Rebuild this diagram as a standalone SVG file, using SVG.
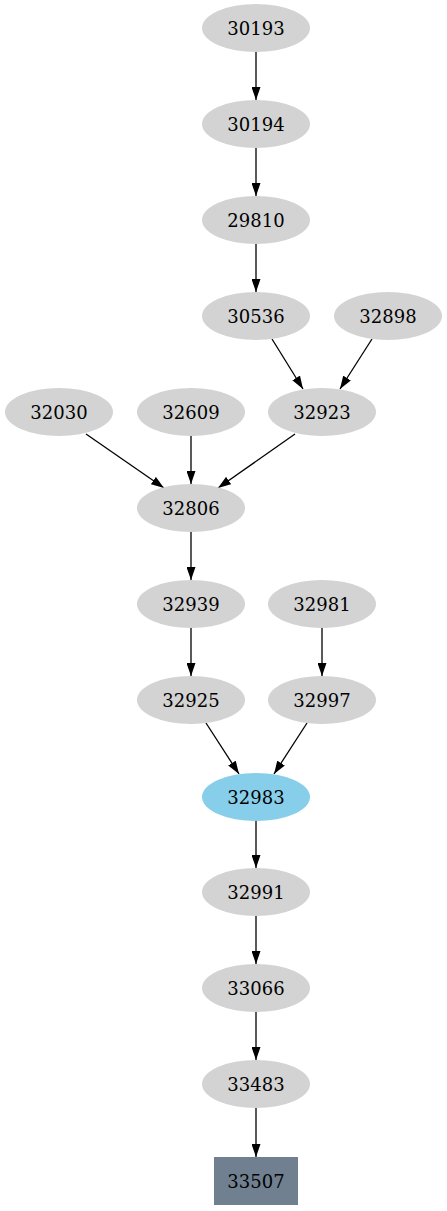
<svg xmlns="http://www.w3.org/2000/svg" width="447" height="1211" viewBox="0 0 447 1211">
<defs>
<marker id="ah" markerWidth="13" markerHeight="9" refX="13" refY="4.5" orient="auto" markerUnits="userSpaceOnUse">
<polygon points="0,0 13,4.5 0,9" fill="#000"/>
</marker>
<style>
.n ellipse{fill:#d3d3d3;stroke:none}
.n text{font-family:"DejaVu Serif","Liberation Serif",serif;font-size:18px;text-anchor:middle;fill:#000}
.e line{stroke:#000;stroke-width:1.3;marker-end:url(#ah)}
</style>
</defs>
<rect width="447" height="1211" fill="#fff"/>
<g class="e" id="edges">
<line x1="256" y1="52" x2="256" y2="100"/>
<line x1="256" y1="148" x2="256" y2="196"/>
<line x1="256" y1="244" x2="256" y2="292"/>
<line x1="272" y1="339" x2="303" y2="389"/>
<line x1="372" y1="339" x2="340" y2="389"/>
<line x1="86" y1="434" x2="164" y2="488"/>
<line x1="191" y1="436" x2="191" y2="484"/>
<line x1="295" y1="434" x2="218" y2="488"/>
<line x1="191" y1="532" x2="191" y2="580"/>
<line x1="322" y1="628" x2="322" y2="676"/>
<line x1="191" y1="628" x2="191" y2="676"/>
<line x1="206" y1="723" x2="239" y2="774"/>
<line x1="307" y1="723" x2="274" y2="774"/>
<line x1="256" y1="821" x2="256" y2="868"/>
<line x1="256" y1="916" x2="256" y2="964"/>
<line x1="256" y1="1012" x2="256" y2="1060"/>
<line x1="256" y1="1108" x2="256" y2="1157"/>
</g>
<g class="n" id="n30193"><ellipse cx="256" cy="28" rx="54" ry="24"/><text x="256" y="34.5">30193</text></g>
<g class="n" id="n30194"><ellipse cx="256" cy="124" rx="54" ry="24"/><text x="256" y="130.5">30194</text></g>
<g class="n" id="n29810"><ellipse cx="256" cy="220" rx="54" ry="24"/><text x="256" y="226.5">29810</text></g>
<g class="n" id="n30536"><ellipse cx="256" cy="316" rx="54" ry="24"/><text x="256" y="322.5">30536</text></g>
<g class="n" id="n32898"><ellipse cx="388" cy="316" rx="54" ry="24"/><text x="388" y="322.5">32898</text></g>
<g class="n" id="n32030"><ellipse cx="59" cy="412" rx="54" ry="24"/><text x="59" y="418.5">32030</text></g>
<g class="n" id="n32609"><ellipse cx="191" cy="412" rx="54" ry="24"/><text x="191" y="418.5">32609</text></g>
<g class="n" id="n32923"><ellipse cx="322" cy="412" rx="54" ry="24"/><text x="322" y="418.5">32923</text></g>
<g class="n" id="n32806"><ellipse cx="191" cy="508" rx="54" ry="24"/><text x="191" y="514.5">32806</text></g>
<g class="n" id="n32939"><ellipse cx="191" cy="604" rx="54" ry="24"/><text x="191" y="610.5">32939</text></g>
<g class="n" id="n32981"><ellipse cx="322" cy="604" rx="54" ry="24"/><text x="322" y="610.5">32981</text></g>
<g class="n" id="n32925"><ellipse cx="191" cy="700" rx="54" ry="24"/><text x="191" y="706.5">32925</text></g>
<g class="n" id="n32997"><ellipse cx="322" cy="700" rx="54" ry="24"/><text x="322" y="706.5">32997</text></g>
<g class="n" id="n32983"><ellipse cx="256" cy="797" rx="54" ry="24" style="fill:#87ceeb"/><text x="256" y="803.5">32983</text></g>
<g class="n" id="n32991"><ellipse cx="256" cy="892" rx="54" ry="24"/><text x="256" y="898.5">32991</text></g>
<g class="n" id="n33066"><ellipse cx="256" cy="988" rx="54" ry="24"/><text x="256" y="994.5">33066</text></g>
<g class="n" id="n33483"><ellipse cx="256" cy="1084" rx="54" ry="24"/><text x="256" y="1090.5">33483</text></g>
<g class="n" id="n33507"><rect x="214" y="1157" width="84" height="48" fill="#708090"/><text x="256" y="1187.5">33507</text></g>
</svg>
